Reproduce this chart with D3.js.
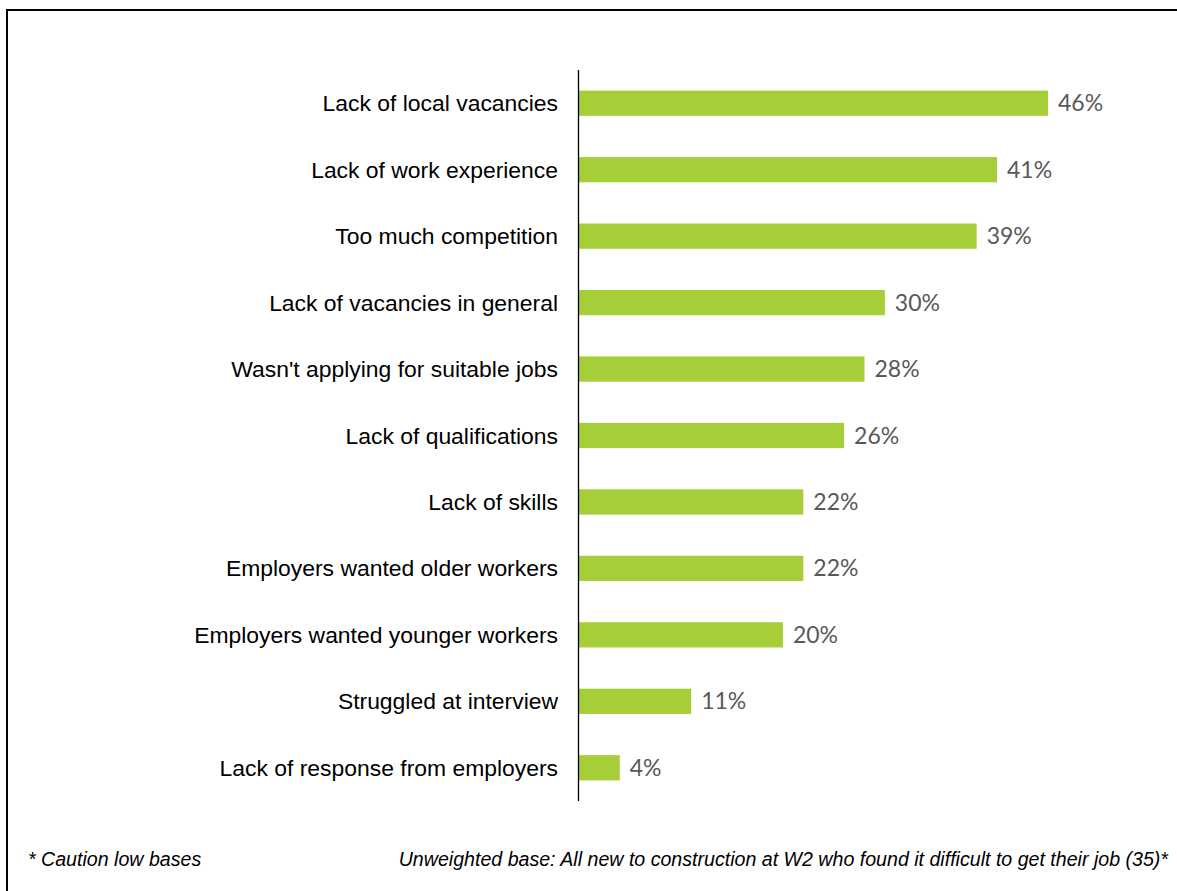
<!DOCTYPE html>
<html>
<head>
<meta charset="utf-8">
<script src="https://cdn.jsdelivr.net/npm/d3@7"></script>
<style>
  html, body { margin: 0; padding: 0; background: #fff; }
  svg { display: block; }
</style>
</head>
<body>
<svg id="chart" width="1177" height="891"></svg>
<script>
// Reasons for difficulty getting a job (percent of respondents)
const categories = [
  "Lack of local vacancies",
  "Lack of work experience",
  "Too much competition",
  "Lack of vacancies in general",
  "Wasn't applying for suitable jobs",
  "Lack of qualifications",
  "Lack of skills",
  "Employers wanted older workers",
  "Employers wanted younger workers",
  "Struggled at interview",
  "Lack of response from employers"
];
const values = [46, 41, 39, 30, 28, 26, 22, 22, 20, 11, 4];
const footnoteLeft = "* Caution low bases";
const footnoteRight = "Unweighted base: All new to construction at W2 who found it difficult to get their job (35)*";

const sansFont = "'Liberation Sans', Arial, Helvetica, sans-serif";
const valueFont = "Lato, 'Open Sans', sans-serif";

const svg = d3.select("#chart");

// Frame: top and left edges
svg.append("path")
  .attr("d", "M7,891 V10 H1177")
  .attr("fill", "none")
  .attr("stroke", "#000")
  .attr("stroke-width", 2);

const x0 = 579;
const x = d3.scaleLinear().domain([0, 46]).range([x0, 1048]);
const y = d3.scaleBand().domain(categories).range([70, 801]).paddingInner(0.62).paddingOuter(0.31);

const data = categories.map((c, i) => ({ cat: c, val: values[i] }));

svg.append("g").selectAll("rect")
  .data(data)
  .join("rect")
  .attr("x", x(0))
  .attr("y", d => y(d.cat))
  .attr("width", d => x(d.val) - x(0))
  .attr("height", y.bandwidth())
  .attr("fill", "#a6ce39");

// Category labels
svg.append("g").selectAll("text")
  .data(data)
  .join("text")
  .attr("x", 558)
  .attr("y", d => y(d.cat) + y.bandwidth() / 2 + 8)
  .attr("text-anchor", "end")
  .style("font-family", sansFont)
  .style("font-size", "22.9px")
  .attr("fill", "#000")
  .text(d => d.cat);

// Value labels
svg.append("g").selectAll("text")
  .data(data)
  .join("text")
  .attr("x", d => x(d.val) + 10)
  .attr("y", d => y(d.cat) + y.bandwidth() / 2 + 8)
  .style("font-family", valueFont)
  .style("font-size", "23px")
  .attr("fill", "#595959")
  .text(d => d.val + "%");

// Vertical axis line
svg.append("line")
  .attr("x1", x0 - 0.5).attr("x2", x0 - 0.5)
  .attr("y1", 70).attr("y2", 801)
  .attr("stroke", "#000")
  .attr("stroke-width", 1.3);

// Footnotes
svg.append("text")
  .attr("x", 28).attr("y", 866)
  .style("font-family", sansFont)
  .style("font-style", "italic")
  .style("font-size", "19.6px")
  .text(footnoteLeft);

svg.append("text")
  .attr("x", 1168).attr("y", 866)
  .attr("text-anchor", "end")
  .style("font-family", sansFont)
  .style("font-style", "italic")
  .style("font-size", "19.6px")
  .text(footnoteRight);
</script>
</body>
</html>
